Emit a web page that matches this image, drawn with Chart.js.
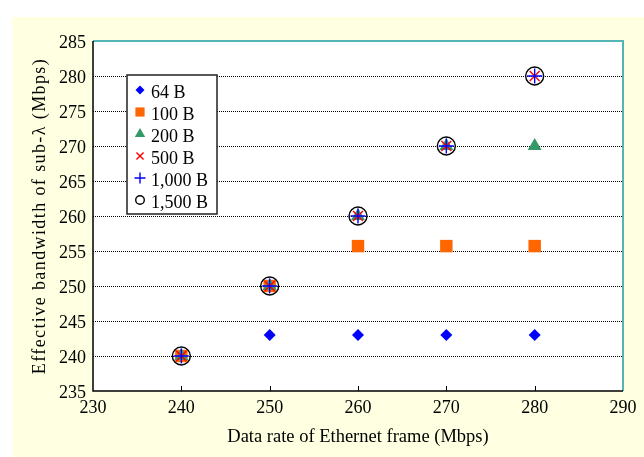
<!DOCTYPE html>
<html>
<head>
<meta charset="utf-8">
<script src="https://cdn.jsdelivr.net/npm/chart.js@4.4.0/dist/chart.umd.min.js"></script>
<style>
  html, body { margin: 0; padding: 0; background: #fff; }
  #wrap { width: 644px; height: 457px; }
</style>
</head>
<body>
<div id="wrap"><canvas id="chart" width="644" height="457"></canvas></div>
<script>
// data rate of Ethernet frame (Mbps)
const rates = [240, 250, 260, 270, 280];

// effective bandwidth of sub-lambda (Mbps) per frame size
const bw64   = [240, 243, 243, 243, 243];
const bw100  = [240, 250, 255.7, 255.7, 255.7];
const bw200  = [240, 250, 260, 270, 270];
const bw500  = [240, 250, 260, 270, 280];
const bw1000 = [240, 250, 260, 270, 280];
const bw1500 = [240, 250, 260, 270, 280];

const xTicks = [230, 240, 250, 260, 270, 280, 290];
const yTicks = [235, 240, 245, 250, 255, 260, 265, 270, 275, 280, 285];

const FONT = "'Liberation Serif', 'Times New Roman', serif";

function pts(ys) {
    return rates.map((x, i) => ({ x: x, y: ys[i] }));
}

// legend marker sizes are smaller than the plot markers
const series = [
    { label: '64 B',    data: bw64,   style: 'rectRot',  color: '#0000ff', r: 6,   lr: 4.5, fill: true },
    { label: '100 B',   data: bw100,  style: 'rect',     color: '#ff6600', r: 8.8, lr: 6.5, fill: true },
    { label: '200 B',   data: bw200,  style: 'triangle', color: '#339966', r: 8,   lr: 6,   fill: true },
    { label: '500 B',   data: bw500,  style: 'crossRot', color: '#ff0000', r: 7,   lr: 5,   fill: false },
    { label: '1,000 B', data: bw1000, style: 'cross',    color: '#0000ff', r: 7.5, lr: 5.5, fill: false },
    { label: '1,500 B', data: bw1500, style: 'circle',   color: '#000000', r: 9,   lr: 4.3, fill: false }
];

const datasets = series.map((s, i) => ({
    label: s.label,
    data: pts(s.data),
    pointStyle: s.style,
    pointRadius: s.r,
    pointHoverRadius: s.r,
    pointBackgroundColor: s.fill ? s.color : 'rgba(0,0,0,0)',
    pointBorderColor: s.color,
    pointBorderWidth: s.fill ? 0 : 1.4,
    showLine: false,
    order: series.length - i   // last series drawn on top
}));

// own marker drawer for the legend box
function drawMarker(ctx, style, x, y, r, color) {
    ctx.save();
    ctx.beginPath();
    ctx.fillStyle = color;
    ctx.strokeStyle = color;
    ctx.lineWidth = 1.4;
    if (style === 'rectRot') {
        ctx.moveTo(x - r, y); ctx.lineTo(x, y - r); ctx.lineTo(x + r, y); ctx.lineTo(x, y + r);
        ctx.closePath(); ctx.fill();
    } else if (style === 'rect') {
        const h = r * Math.SQRT1_2;
        ctx.rect(x - h, y - h, 2 * h, 2 * h); ctx.fill();
    } else if (style === 'triangle') {
        ctx.moveTo(x, y - r);
        ctx.lineTo(x + r * Math.sin(2 * Math.PI / 3), y + r / 2);
        ctx.lineTo(x - r * Math.sin(2 * Math.PI / 3), y + r / 2);
        ctx.closePath(); ctx.fill();
    } else if (style === 'crossRot') {
        const h = r * Math.SQRT1_2;
        ctx.moveTo(x - h, y - h); ctx.lineTo(x + h, y + h);
        ctx.moveTo(x - h, y + h); ctx.lineTo(x + h, y - h);
        ctx.stroke();
    } else if (style === 'cross') {
        ctx.moveTo(x - r, y); ctx.lineTo(x + r, y);
        ctx.moveTo(x, y - r); ctx.lineTo(x, y + r);
        ctx.stroke();
    } else {
        ctx.arc(x, y, r, 0, Math.PI * 2); ctx.stroke();
    }
    ctx.restore();
}

const frame = {
    id: 'frame',
    beforeDraw(chart) {
        const { ctx, chartArea: a, scales } = chart;
        ctx.save();
        ctx.fillStyle = '#ffffff';
        ctx.fillRect(0, 0, chart.width, chart.height);
        ctx.fillStyle = '#ffffe1';
        ctx.fillRect(12, 17, chart.width - 12, chart.height - 17);
        ctx.fillStyle = '#ffffff';
        ctx.fillRect(a.left, a.top, a.right - a.left, a.bottom - a.top);
        // dotted horizontal grid lines
        ctx.strokeStyle = '#000';
        ctx.lineWidth = 1;
        ctx.setLineDash([1, 1]);
        ctx.beginPath();
        yTicks.slice(1, -1).forEach(v => {
            const py = Math.round(scales.y.getPixelForValue(v)) + 0.5;
            ctx.moveTo(a.left, py); ctx.lineTo(a.right, py);
        });
        ctx.stroke();
        ctx.restore();
    },
    afterDatasetsDraw(chart) {
        const { ctx, chartArea: a, scales } = chart;
        ctx.save();
        // teal top / right border
        ctx.strokeStyle = '#55b5b5';
        ctx.lineWidth = 2;
        ctx.beginPath();
        ctx.moveTo(a.left, a.top); ctx.lineTo(a.right, a.top); ctx.lineTo(a.right, a.bottom);
        ctx.stroke();
        // black left / bottom axes
        ctx.strokeStyle = '#000';
        ctx.lineWidth = 1.5;
        ctx.beginPath();
        ctx.moveTo(a.left, a.top); ctx.lineTo(a.left, a.bottom); ctx.lineTo(a.right, a.bottom);
        ctx.stroke();
        // inward tick marks on the x axis
        ctx.lineWidth = 1;
        ctx.beginPath();
        xTicks.slice(1, -1).forEach(v => {
            const px = Math.round(scales.x.getPixelForValue(v)) + 0.5;
            ctx.moveTo(px, a.bottom); ctx.lineTo(px, a.bottom - 5);
        });
        ctx.stroke();

        // legend box
        const bx = 127, by = 75, bw = 90, bh = 139;
        ctx.fillStyle = '#fff';
        ctx.fillRect(bx, by, bw, bh);
        ctx.strokeStyle = '#222';
        ctx.lineWidth = 1.5;
        ctx.strokeRect(bx, by, bw, bh);
        ctx.font = '18px ' + FONT;
        ctx.fillStyle = '#000';
        ctx.textBaseline = 'middle';
        series.forEach((s, i) => {
            const y = 92 + i * 22;
            drawMarker(ctx, s.style, 140, y - 2, s.lr, s.color);
            ctx.fillText(s.label, 151, y + 1);
        });
        ctx.restore();
    }
};

new Chart(document.getElementById('chart'), {
    type: 'scatter',
    data: { datasets: datasets },
    options: {
        responsive: false,
        animation: false,
        layout: { padding: { left: 0, top: 41, right: 21, bottom: 0 } },
        plugins: {
            legend: { display: false },
            tooltip: { enabled: false }
        },
        scales: {
            x: {
                type: 'linear',
                min: 230,
                max: 290,
                afterBuildTicks: (scale) => { scale.ticks = xTicks.map(v => ({ value: v })); },
                afterFit: (scale) => { scale.height = 66; },
                grid: { display: false, drawTicks: false },
                border: { display: false },
                ticks: { color: '#000', padding: 6, font: { family: FONT, size: 18 }, maxRotation: 0 },
                title: {
                    display: true,
                    text: 'Data rate of Ethernet frame (Mbps)',
                    color: '#000',
                    font: { family: FONT, size: 18.5 },
                    padding: { top: 0, bottom: 9 }
                }
            },
            y: {
                type: 'linear',
                min: 235,
                max: 285,
                afterBuildTicks: (scale) => { scale.ticks = yTicks.map(v => ({ value: v })); },
                afterFit: (scale) => {
                    scale.width = 93;
                    // the y title in the original is spaced out a bit
                    if (!scale._spaced) {
                        const drawTitle = scale.drawTitle;
                        scale.drawTitle = function () {
                            this.ctx.save();
                            this.ctx.letterSpacing = '1.4px';
                            drawTitle.call(this);
                            this.ctx.restore();
                        };
                        scale._spaced = true;
                    }
                },
                grid: { display: false, drawTicks: false },
                border: { display: false },
                ticks: { color: '#000', padding: 7, labelOffset: 2, font: { family: FONT, size: 18 } },
                title: {
                    display: true,
                    text: 'Effective bandwidth of sub-λ (Mbps)',
                    color: '#000',
                    font: { family: FONT, size: 18 },
                    padding: { top: 29, bottom: 0 }
                }
            }
        }
    },
    plugins: [frame]
});
</script>
</body>
</html>
